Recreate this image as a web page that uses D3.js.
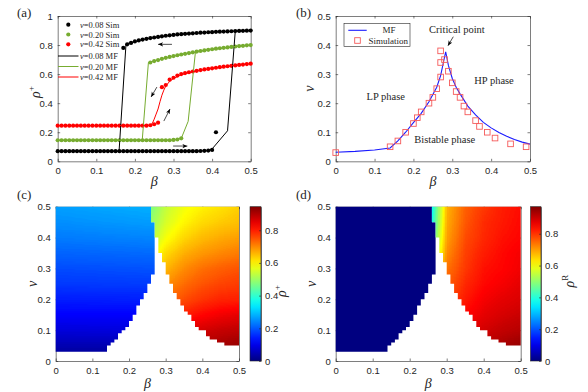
<!DOCTYPE html>
<meta charset="utf-8">
<style>
body { margin: 0; background: #fff; }
svg { display: block; }
.axes text { font-family: "Liberation Sans", Arial, sans-serif; font-size: 9.5px; fill: #262626; }
.axes path, .axes line { stroke: #262626; stroke-width: 0.6; fill: none; }
.serif { font-family: "Liberation Serif", "Times New Roman", serif; fill: #262626; }
</style>
<body>
<svg width="588" height="392"></svg>
<script src="https://cdn.jsdelivr.net/npm/d3@7/dist/d3.min.js"></script>
<script>
// ---------- panel (a): rho+ vs beta, simulation points every 0.01 ----------
var simStep = 0.01;
var sim08LowStart = 0;
var sim08Low = [0.07,0.07,0.07,0.07,0.07,0.07,0.07,0.07,0.07,0.07,
  0.07,0.07,0.07,0.07,0.07,0.07,0.07,0.07,0.07,0.07,
  0.07,0.07,0.07,0.07,0.07,0.07,0.07,0.07,0.07,0.07,
  0.07,0.07,0.07,0.07,0.07,0.07,0.07,0.071,0.072,0.074,0.078,0.20];
var sim08HighStart = 0.17;
var sim08High = [0.78,0.805,0.815,0.825,0.832,0.838,0.843,0.848,0.852,0.856,
  0.86,0.864,0.867,0.87,0.873,0.875,0.877,0.879,0.881,0.883,
  0.885,0.886,0.888,0.889,0.891,0.892,0.893,0.894,0.895,0.896,
  0.897,0.898,0.899,0.90];
var sim20LowStart = 0;
var sim20Low = [0.145,0.145,0.145,0.145,0.145,0.145,0.145,0.145,0.145,0.145,
  0.145,0.145,0.145,0.145,0.145,0.145,0.145,0.145,0.145,0.145,
  0.145,0.145,0.145,0.145,0.145,0.145,0.145,0.145,0.145,0.145,0.147,0.15,0.158];
var sim20HighStart = 0.24;
var sim20High = [0.68,0.69,0.697,0.705,0.712,0.718,0.724,0.73,0.735,0.74,
  0.745,0.75,0.755,0.759,0.763,0.767,0.771,0.775,0.778,0.781,
  0.784,0.787,0.79,0.793,0.795,0.798,0.80];
var sim42LowStart = 0;
var sim42Low = [0.245,0.245,0.245,0.245,0.245,0.245,0.245,0.245,0.245,0.245,
  0.245,0.245,0.245,0.245,0.245,0.245,0.245,0.245,0.245,0.245,
  0.245,0.245,0.245,0.245,0.248,0.255,0.266];
var sim42HighStart = 0.27;
var sim42High = [0.51,0.525,0.562,0.575,0.59,0.60,0.607,0.613,0.618,0.623,
  0.628,0.632,0.636,0.64,0.644,0.648,0.651,0.654,0.657,0.66,
  0.663,0.666,0.669,0.672];

// mean-field curves, [beta, rho+]
var mf08Fwd = [[0,0.07],[0.39,0.072],[0.40,0.085],[0.44,0.21],[0.46,0.895],[0.50,0.90]];
var mf08Bwd = [[0.50,0.90],[0.40,0.889],[0.30,0.87],[0.22,0.838],[0.177,0.808],[0.159,0.07],[0,0.07]];
var mf20Fwd = [[0,0.145],[0.30,0.147],[0.32,0.157],[0.338,0.275],[0.357,0.757],[0.40,0.771],[0.45,0.787],[0.50,0.80]];
var mf20Bwd = [[0.50,0.80],[0.40,0.771],[0.30,0.724],[0.235,0.68],[0.219,0.145],[0,0.145]];
var mf42 = [[0,0.245],[0.23,0.246],[0.24,0.25],[0.245,0.26],[0.25,0.29],[0.255,0.325],[0.26,0.36],
  [0.265,0.41],[0.27,0.455],[0.275,0.49],[0.28,0.518],[0.29,0.55],[0.30,0.57],[0.32,0.595],
  [0.35,0.617],[0.40,0.64],[0.45,0.657],[0.50,0.672]];
// sweep arrows, [[beta, rho] from, [beta, rho] to]
var sweepArrows = [[[0.296,0.805],[0.26,0.805]], [[0.257,0.511],[0.242,0.443]],
  [[0.275,0.277],[0.291,0.36]], [[0.299,0.105],[0.336,0.105]]];

// ---------- panel (b): phase diagram ----------
var mfPhase = [[0,0.031],[0.05,0.034],[0.10,0.039],[0.14,0.046],[0.16,0.07],[0.18,0.10],[0.20,0.133],
  [0.22,0.165],[0.24,0.205],[0.26,0.255],[0.27,0.295],[0.283,0.377],[0.29,0.33],[0.30,0.285],
  [0.31,0.255],[0.32,0.232],[0.34,0.19],[0.36,0.16],[0.38,0.134],[0.40,0.115],[0.42,0.099],
  [0.44,0.086],[0.46,0.075],[0.48,0.066],[0.50,0.059]];
var simPhaseBeta = [0,0.14,0.16,0.18,0.20,0.21,0.22,0.24,0.25,0.26,0.27,0.27,0.27,0.28,0.29,0.30,0.31,0.32,0.33,0.34,0.36,0.37,0.39,0.41,0.45,0.49];
var simPhaseNu = [0.03,0.05,0.07,0.10,0.13,0.15,0.17,0.20,0.22,0.25,0.29,0.34,0.38,0.35,0.31,0.27,0.24,0.22,0.19,0.17,0.14,0.12,0.10,0.08,0.06,0.05];

// ---------- panels (c),(d): heat maps ----------
// rows are nu cells [r/100, (r+1)/100]; region edges in hundredths of beta
var rowLo = d3.range(3, 50);
var lpEnd = [14,14,15,16,17,17,18,19,20,20,21,21,22,22,22,23,23,24,24,25,25,25,26,26,26,
  27,27,27,27,27,27,27,27,27,27,27,27,27,27,27,27,27, 26,26,26,26,26];
var hpStart = [0,0,46,44,42,41,41,39,38,38,37,37,36,35,35,34,34,33,33,32,32,32,31,31,31,
  30,30,30,30,29,29,29,28,28,28,28,28,27,27,27,27,27,26,26,26,26,26];
// LP-phase values, columns beta = lpBeta, rows nu = lpNu
var lpBeta = [0, 0.3];
var lpNu = [0,0.05,0.10,0.15,0.20,0.25,0.30,0.35,0.40,0.45,0.50];
var lpRhoPlus = [[0.005,0.005],[0.047,0.048],[0.085,0.087],[0.118,0.12],[0.145,0.148],[0.17,0.174],
  [0.19,0.196],[0.21,0.218],[0.235,0.245],[0.25,0.265],[0.265,0.285]];
var lpRhoRNu = [0, 0.5];
var lpRhoR = [[0,0],[0,0]];
// HP-phase values
var hpBeta = [0.25,0.30,0.35,0.40,0.45,0.50];
var hpNu = [0.05,0.10,0.15,0.20,0.25,0.30,0.35,0.40,0.45,0.50];
var hpRhoPlus = [
  [0.83,0.87,0.89,0.905,0.915,0.925],
  [0.78,0.83,0.855,0.87,0.88,0.89],
  [0.72,0.78,0.805,0.825,0.84,0.85],
  [0.66,0.73,0.76,0.78,0.795,0.80],
  [0.62,0.695,0.73,0.75,0.765,0.775],
  [0.58,0.66,0.70,0.725,0.74,0.75],
  [0.55,0.625,0.665,0.69,0.705,0.715],
  [0.51,0.585,0.63,0.655,0.67,0.68],
  [0.48,0.555,0.60,0.625,0.64,0.65],
  [0.46,0.535,0.58,0.605,0.62,0.635]];
var hpRhoR = [
  [0.75,0.86,0.90,0.92,0.935,0.95],
  [0.70,0.83,0.87,0.895,0.91,0.92],
  [0.65,0.80,0.85,0.875,0.89,0.90],
  [0.60,0.78,0.83,0.86,0.875,0.885],
  [0.55,0.76,0.815,0.845,0.86,0.875],
  [0.50,0.74,0.80,0.835,0.85,0.865],
  [0.42,0.72,0.79,0.825,0.845,0.86],
  [0.36,0.70,0.78,0.815,0.835,0.85],
  [0.32,0.69,0.77,0.81,0.83,0.845],
  [0.30,0.68,0.76,0.80,0.825,0.84]];
var maxRhoPlus = 0.944, maxRhoR = 0.97;

var betaTicks = [0,0.1,0.2,0.3,0.4,0.5];
var nuTicks = [0,0.1,0.2,0.3,0.4,0.5];
var rhoTicks = [0,0.2,0.4,0.6,0.8,1];
var cbTicks = [0,0.2,0.4,0.6,0.8];

var svg = d3.select("svg");
var defs = svg.append("defs");
var fmt = d3.format("~g");

var xA = d3.scaleLinear().domain([0,0.5]).range([57.7,250.7]);
var yA = d3.scaleLinear().domain([0,1]).range([161.3,16]);
var xB = d3.scaleLinear().domain([0,0.5]).range([335.7,530]);
var yB = d3.scaleLinear().domain([0,0.5]).range([161.3,16]);
var xC = d3.scaleLinear().domain([0,0.5]).range([55.7,239]);
var yC = d3.scaleLinear().domain([0,0.5]).range([361,206.7]);
var xD = d3.scaleLinear().domain([0,0.5]).range([335.7,520.7]);
var yD = yC;

function jetRGB(t) {
  t = Math.max(0, Math.min(1, t));
  function ch(c) { return 255 * Math.max(0, Math.min(1, 1.5 - Math.abs(4 * t - c))); }
  return [ch(3), ch(2), ch(1)];
}
function jet(t) { var c = jetRGB(t); return d3.rgb(c[0], c[1], c[2]).formatHex(); }

function axes(x, y, xt, yt) {
  var g = svg.append("g").attr("class", "axes");
  var x0 = x.range()[0], x1 = x.range()[1], y0 = y.range()[0], y1 = y.range()[1];
  g.append("g").attr("transform", "translate(0," + y0 + ")")
    .call(d3.axisBottom(x).tickValues(xt).tickFormat(fmt).tickSizeInner(-2.5).tickSizeOuter(0).tickPadding(6));
  g.append("g").attr("transform", "translate(0," + y1 + ")")
    .call(d3.axisTop(x).tickValues(xt).tickFormat("").tickSizeInner(-2.5).tickSizeOuter(0));
  g.append("g").attr("transform", "translate(" + x0 + ",0)")
    .call(d3.axisLeft(y).tickValues(yt).tickFormat(fmt).tickSizeInner(-2.5).tickSizeOuter(0).tickPadding(5));
  g.append("g").attr("transform", "translate(" + x1 + ",0)")
    .call(d3.axisRight(y).tickValues(yt).tickFormat("").tickSizeInner(-2.5).tickSizeOuter(0));
  return g;
}

function italicLabel(x, y, rot, main, sup, supItalic) {
  var t = svg.append("text").attr("class", "serif").attr("text-anchor", "middle")
    .attr("transform", "translate(" + x + "," + y + ")" + (rot ? " rotate(-90)" : ""))
    .style("font-size", "14px");
  t.append("tspan").style("font-style", "italic").text(main);
  if (sup) t.append("tspan").attr("dy", -6).style("font-size", "9px")
    .style("font-style", supItalic ? "italic" : "normal").text(sup);
}

function tag(x, y, s) {
  svg.append("text").attr("class", "serif").attr("x", x).attr("y", y)
    .style("font-size", "13px").text(s);
}

defs.append("marker").attr("id", "ah").attr("viewBox", "0 0 10 10")
  .attr("refX", 10).attr("refY", 5).attr("markerWidth", 5).attr("markerHeight", 5)
  .attr("markerUnits", "userSpaceOnUse").attr("orient", "auto")
  .append("path").attr("d", "M0,0.8 L10,5 L0,9.2 L2.5,5 z").attr("fill", "#000");

// ================= panel (a) =================
axes(xA, yA, betaTicks, rhoTicks);
var gA = svg.append("g");
function simDots(start, vals, color) {
  gA.selectAll(null).data(vals).enter().append("circle")
    .attr("cx", function(d, i) { return xA(start + i * simStep); })
    .attr("cy", function(d) { return yA(d); })
    .attr("r", 2.1).attr("fill", color);
}
var cBlack = "#000000", cGreen = "#77ac30", cRed = "#ff0000";
simDots(sim08LowStart, sim08Low, cBlack);
simDots(sim08HighStart, sim08High, cBlack);
simDots(sim20LowStart, sim20Low, cGreen);
simDots(sim20HighStart, sim20High, cGreen);
simDots(sim42LowStart, sim42Low, cRed);
simDots(sim42HighStart, sim42High, cRed);

var lineA = d3.line().x(function(d) { return xA(d[0]); }).y(function(d) { return yA(d[1]); });
[[mf08Fwd, cBlack], [mf08Bwd, cBlack], [mf20Fwd, cGreen], [mf20Bwd, cGreen], [mf42, cRed]].forEach(function(m) {
  gA.append("path").attr("d", lineA(m[0])).attr("fill", "none").attr("stroke", m[1]).attr("stroke-width", 1);
});
sweepArrows.forEach(function(a) {
  gA.append("line").attr("x1", xA(a[0][0])).attr("y1", yA(a[0][1]))
    .attr("x2", xA(a[1][0])).attr("y2", yA(a[1][1]))
    .attr("stroke", "#000").attr("stroke-width", 0.7).attr("marker-end", "url(#ah)");
});

var legA = [
  {kind: "dot", color: cBlack, nu: "0.08", what: "Sim", y: 24.7},
  {kind: "dot", color: cGreen, nu: "0.20", what: "Sim", y: 34.5},
  {kind: "dot", color: cRed, nu: "0.42", what: "Sim", y: 44.3},
  {kind: "line", color: cBlack, nu: "0.08", what: "MF", y: 56},
  {kind: "line", color: cGreen, nu: "0.20", what: "MF", y: 66.5},
  {kind: "line", color: cRed, nu: "0.42", what: "MF", y: 77}];
legA.forEach(function(e) {
  if (e.kind === "dot") {
    svg.append("circle").attr("cx", 68.3).attr("cy", e.y).attr("r", 2.1).attr("fill", e.color);
  } else {
    svg.append("line").attr("x1", 58).attr("x2", 78.5).attr("y1", e.y).attr("y2", e.y)
      .attr("stroke", e.color).attr("stroke-width", 1);
  }
  var t = svg.append("text").attr("class", "serif").attr("x", 80).attr("y", e.y + 3)
    .style("font-size", "8.5px");
  t.append("tspan").style("font-style", "italic").text("\u03bd");
  t.append("tspan").text("=" + e.nu + " " + e.what);
});
italicLabel(154.2, 186, false, "\u03b2");
italicLabel(40, 92, true, "\u03c1", "+");
tag(17, 17, "(a)");

// ================= panel (b) =================
axes(xB, yB, betaTicks, nuTicks);
var gB = svg.append("g");
var lineB = d3.line().x(function(d) { return xB(d[0]); }).y(function(d) { return yB(d[1]); });
gB.append("path").attr("d", lineB(mfPhase)).attr("fill", "none")
  .attr("stroke", "#1a1aff").attr("stroke-width", 1.1);
var sq = 5.6, sqColor = "#f55a5a";
gB.selectAll(null).data(simPhaseBeta).enter().append("rect")
  .attr("x", function(d) { return xB(d) - sq / 2; })
  .attr("y", function(d, i) { return yB(simPhaseNu[i]) - sq / 2; })
  .attr("width", sq).attr("height", sq)
  .attr("fill", "none").attr("stroke", sqColor).attr("stroke-width", 0.9);

var notes = [
  {text: "Critical point", b: 0.312, n: 0.455},
  {text: "LP phase", b: 0.1287, n: 0.2223},
  {text: "HP phase", b: 0.4074, n: 0.2763},
  {text: "Bistable phase", b: 0.2805, n: 0.0733}];
notes.forEach(function(d) {
  gB.append("text").attr("class", "serif").attr("x", xB(d.b)).attr("y", yB(d.n))
    .attr("dy", "0.33em").attr("text-anchor", "middle").style("font-size", "10.5px").text(d.text);
});
gB.append("line").attr("x1", xB(0.3026)).attr("y1", yB(0.4288))
  .attr("x2", xB(0.2889)).attr("y2", yB(0.3978))
  .attr("stroke", "#000").attr("stroke-width", 0.7).attr("marker-end", "url(#ah)");

var lb = svg.append("g").attr("transform", "translate(344,23.3)");
lb.append("rect").attr("width", 66).attr("height", 23.4).attr("fill", "#fff")
  .attr("stroke", "#262626").attr("stroke-width", 0.6);
lb.append("line").attr("x1", 4.3).attr("x2", 22.7).attr("y1", 7).attr("y2", 7)
  .attr("stroke", "#1a1aff").attr("stroke-width", 1.1);
lb.append("rect").attr("x", 13.5 - sq / 2).attr("y", 17.2 - sq / 2).attr("width", sq).attr("height", sq)
  .attr("fill", "none").attr("stroke", sqColor).attr("stroke-width", 0.9);
lb.append("text").attr("class", "serif").attr("x", 45).attr("y", 10).attr("text-anchor", "middle")
  .style("font-size", "9px").text("MF");
lb.append("text").attr("class", "serif").attr("x", 24.5).attr("y", 20.3)
  .style("font-size", "9px").text("Simulation");
italicLabel(432.9, 186, false, "\u03b2");
italicLabel(313.5, 88.6, true, "\u03bd");
tag(296, 17, "(b)");

// ================= panels (c),(d) =================
function clipRows(id, x, y, fromFn, toFn) {
  var p = d3.path();
  rowLo.forEach(function(r, i) {
    var a = fromFn(i), b = toFn(i);
    if (a === null || b <= a) return;
    var top = y((r + 1) / 100), bot = y(r / 100);
    p.rect(x(a / 100), top, x(b / 100) - x(a / 100), bot - top);
  });
  defs.append("clipPath").attr("id", id).append("path").attr("d", p.toString());
}

function fieldURL(grid, vmax) {
  var rows = grid.length, cols = grid[0].length, k = 24;
  var small = document.createElement("canvas");
  small.width = cols; small.height = rows;
  var sc = small.getContext("2d");
  var im = sc.createImageData(cols, rows);
  grid.forEach(function(row, i) {
    row.forEach(function(v, j) {
      var p = ((rows - 1 - i) * cols + j) * 4, q = Math.round(255 * v / vmax);
      im.data[p] = q; im.data[p + 1] = q; im.data[p + 2] = q; im.data[p + 3] = 255;
    });
  });
  sc.putImageData(im, 0, 0);
  var big = document.createElement("canvas");
  big.width = cols * k; big.height = rows * k;
  var bc = big.getContext("2d");
  bc.imageSmoothingEnabled = true;
  bc.imageSmoothingQuality = "low";
  bc.drawImage(small, 0, 0, big.width, big.height);
  var out = bc.getImageData(0, 0, big.width, big.height);
  for (var p = 0; p < out.data.length; p += 4) {
    var c = jetRGB(out.data[p] / 255);
    out.data[p] = c[0]; out.data[p + 1] = c[1]; out.data[p + 2] = c[2]; out.data[p + 3] = 255;
  }
  bc.putImageData(out, 0, 0);
  return big.toDataURL();
}

function drawField(x, y, betas, nus, grid, vmax, clipId) {
  var db = betas[1] - betas[0], dn = nus[1] - nus[0];
  var xa = x(betas[0] - db / 2), xb = x(betas[betas.length - 1] + db / 2);
  var ya = y(nus[nus.length - 1] + dn / 2), yb = y(nus[0] - dn / 2);
  svg.append("image").attr("x", xa).attr("y", ya).attr("width", xb - xa).attr("height", yb - ya)
    .attr("preserveAspectRatio", "none").attr("href", fieldURL(grid, vmax))
    .attr("clip-path", "url(#" + clipId + ")");
}

var grad = defs.append("linearGradient").attr("id", "jetGrad")
  .attr("x1", 0).attr("y1", 1).attr("x2", 0).attr("y2", 0);
d3.range(0, 21).forEach(function(i) {
  grad.append("stop").attr("offset", i / 20).attr("stop-color", jet(i / 20));
});

function colorbar(x0, w, vmax) {
  var cs = d3.scaleLinear().domain([0, vmax]).range([361, 206.7]);
  svg.append("rect").attr("x", x0).attr("y", 206.7).attr("width", w).attr("height", 361 - 206.7)
    .attr("fill", "url(#jetGrad)");
  var g = svg.append("g").attr("class", "axes");
  g.append("g").attr("transform", "translate(" + (x0 + w) + ",0)")
    .call(d3.axisRight(cs).tickValues(cbTicks).tickFormat(fmt).tickSizeInner(-2).tickSizeOuter(0).tickPadding(4));
  g.append("rect").attr("x", x0).attr("y", 206.7).attr("width", w).attr("height", 361 - 206.7)
    .attr("fill", "none").attr("stroke", "#262626").attr("stroke-width", 0.6);
}

function heatPanel(x, y, key, lpB, lpN, lpGrid, hpGrid, vmax) {
  axes(x, y, betaTicks, nuTicks);
  clipRows("lp" + key, x, y, function() { return 0; }, function(i) { return lpEnd[i]; });
  clipRows("hp" + key, x, y, function(i) { return hpStart[i] ? hpStart[i] : null; }, function() { return 50; });
  drawField(x, y, lpB, lpN, lpGrid, vmax, "lp" + key);
  drawField(x, y, hpBeta, hpNu, hpGrid, vmax, "hp" + key);
}

heatPanel(xC, yC, "c", lpBeta, lpNu, lpRhoPlus, hpRhoPlus, maxRhoPlus);
colorbar(250, 11, maxRhoPlus);
italicLabel(147.4, 388, false, "\u03b2");
italicLabel(36.5, 283.8, true, "\u03bd");
italicLabel(286, 291, true, "\u03c1", "+");
tag(17, 199, "(c)");

heatPanel(xD, yD, "d", lpBeta, lpRhoRNu, lpRhoR, hpRhoR, maxRhoR);
colorbar(530.5, 10.5, maxRhoR);
italicLabel(428.2, 388, false, "\u03b2");
italicLabel(315.5, 283.8, true, "\u03bd");
italicLabel(574, 281, true, "\u03c1", "R");
tag(296, 199, "(d)");
</script>
</body>
